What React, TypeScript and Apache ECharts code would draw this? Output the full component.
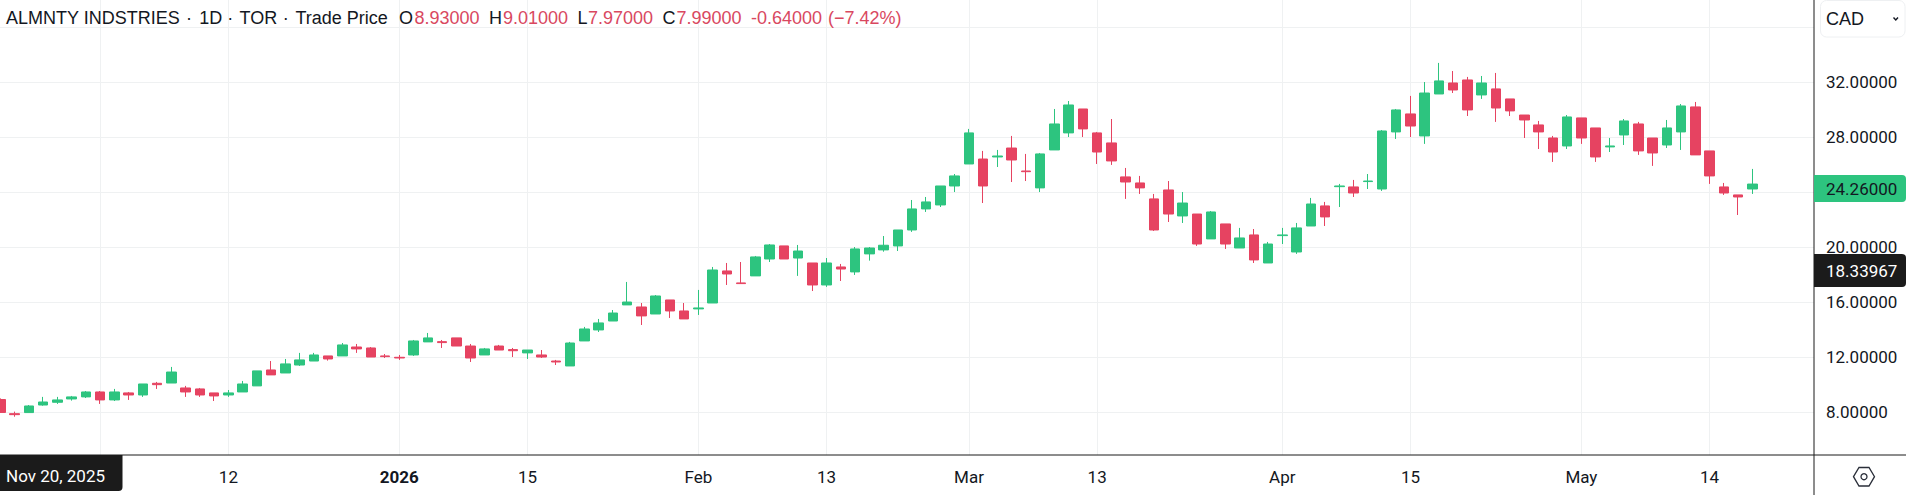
import React, { useEffect, useRef } from "react";
import * as echarts from "echarts";

const opens = [8.93,7.90,7.98,8.53,8.73,8.97,9.12,9.48,8.90,9.41,9.26,10.11,10.13,9.77,9.70,9.41,9.26,9.48,9.92,11.08,10.86,11.44,11.73,
12.10,12.10,12.75,12.68,12.10,12.00,12.17,13.12,13.14,13.41,12.82,12.17,12.82,12.56,12.32,12.17,11.73,11.37,13.19,13.99,14.64,
15.81,15.66,15.15,16.17,15.37,15.52,15.95,18.28,17.41,17.92,19.15,20.10,19.22,18.86,17.26,18.57,18.21,
19.52,19.81,20.10,21.26,22.79,23.08,24.46,26.06,26.42,26.57,27.22,25.55,24.32,27.08,28.32,30.06,28.32,27.59,25.12,24.68,23.52,
24.17,22.28,22.42,20.61,21.70,19.95,20.90,18.86,20.85,19.66,21.55,23.01,24.41,24.39,24.78,24.24,28.39,29.70,
28.10,31.15,31.95,32.17,31.08,31.52,30.79,29.62,28.90,27.95,27.37,29.41,28.68,27.30,28.17,28.97,27.95,27.44,28.39,30.21,27.01,24.39,23.81,24.24];
const closes = [7.99,7.83,8.46,8.75,8.90,9.12,9.48,8.90,9.48,9.26,10.06,10.01,10.93,9.48,9.26,9.19,9.41,10.06,11.01,10.72,11.52,11.81,12.17,
11.88,12.90,12.61,12.02,12.05,11.95,13.19,13.41,13.07,12.82,11.95,12.61,12.53,12.48,12.53,12.02,11.66,13.04,14.06,14.50,15.22,
16.02,15.01,16.46,15.37,14.79,15.59,18.35,18.06,17.36,19.30,20.17,19.15,19.73,17.26,18.86,18.42,19.88,
19.95,20.15,21.26,22.79,23.30,24.46,25.19,28.32,24.46,26.64,26.35,25.50,26.79,28.97,30.35,28.61,26.93,26.28,24.75,24.32,21.26,
22.42,23.22,20.24,22.57,20.24,20.68,19.08,20.24,20.90,21.41,23.15,22.21,24.46,23.95,24.82,28.46,29.99,28.82,
31.22,32.10,31.44,29.99,31.95,30.13,29.92,29.26,28.39,26.93,29.48,27.95,26.57,27.37,29.19,27.01,26.86,28.68,30.28,26.72,25.19,23.95,23.66,24.60];
const lows = [7.97,7.68,7.98,8.48,8.61,8.85,9.04,8.61,8.82,8.90,9.12,9.70,10.13,9.12,9.12,8.82,9.12,9.48,9.92,10.72,10.86,11.37,11.73,
11.76,12.10,12.32,12.02,11.95,11.81,12.10,13.12,12.68,12.82,11.66,12.17,12.53,12.02,11.88,11.95,11.44,11.37,13.19,13.84,14.64,
15.81,14.35,15.15,14.86,14.79,15.08,15.95,17.26,17.36,17.92,18.93,19.15,17.92,16.82,17.12,17.55,17.99,
19.03,19.68,19.73,21.12,22.57,22.93,24.02,26.06,23.22,25.84,24.75,24.82,24.02,27.08,28.02,28.02,26.06,25.99,23.52,23.88,21.19,
21.84,21.77,20.10,20.61,19.88,19.95,18.86,18.86,20.24,19.52,21.55,21.55,22.93,23.66,24.24,24.10,27.88,28.02,
27.52,31.15,31.22,29.55,30.79,29.12,29.55,27.95,27.15,26.21,27.15,27.52,26.21,26.93,27.44,26.72,25.92,27.22,27.08,26.72,24.61,23.81,22.35,23.88];
const highs = [9.01,8.05,8.53,9.12,9.12,9.19,9.55,9.55,9.70,9.48,10.06,10.21,11.30,9.92,9.77,9.41,9.62,10.28,11.01,11.73,11.88,12.32,12.32,
12.10,13.04,12.97,12.75,12.24,12.17,13.26,13.77,13.26,13.41,12.97,12.68,12.90,12.68,12.53,12.53,11.81,13.12,14.21,14.79,15.44,
17.48,15.95,16.53,16.17,15.95,16.90,18.57,18.86,18.93,19.37,20.24,20.10,20.17,18.86,19.22,18.79,20.02,
20.02,20.82,21.26,23.44,23.66,24.46,25.33,28.61,27.01,27.08,28.10,26.79,26.86,30.06,30.64,30.06,28.39,29.33,25.77,25.19,23.88,
24.82,24.02,22.42,22.64,21.70,21.41,21.33,20.39,21.41,21.77,23.59,23.30,24.61,24.90,25.33,28.53,30.06,31.01,
32.02,33.41,32.82,32.39,32.46,32.68,30.79,29.62,29.19,28.10,29.62,29.41,28.68,27.95,29.33,29.12,27.95,29.26,30.42,30.57,27.01,24.68,23.81,25.70];

const emptyTrailingSlots = 4;
const tickIndices = [7, 16, 28, 37, 49, 58, 68, 77, 90, 99, 111, 120];
const tickTexts = ["", "12", "2026", "15", "Feb", "13", "Mar", "13", "Apr", "15", "May", "14"];
const priceLabels = [8, 12, 16, 20, 24, 28, 32];

const categories = Array.from({ length: opens.length + emptyTrailingSlots }, (_, i) => String(i));
const candleData = opens.map((o, i) => [o, closes[i], lows[i], highs[i]]);

const UP = "#2DC47F";
const DOWN = "#E64361";
const INK = "#131722";
const QUOTE = "#D9485F";
const GRID = "#EFF1F2";
const Y_MIN = 4.895;
const Y_MAX = 37.985;
const SANS = "Liberation Sans";

const headerPieces: [string, number, string][] = [
  ["ALMNTY INDSTRIES", 6, INK],
  ["·", 186, INK],
  ["1D", 199.2, INK],
  ["·", 227.2, INK],
  ["TOR", 239.6, INK],
  ["·", 282.7, INK],
  ["Trade Price", 295.5, INK],
  ["O", 399, INK],
  ["8.93000", 414.5, QUOTE],
  ["H", 489, INK],
  ["9.01000", 503, QUOTE],
  ["L", 577.5, INK],
  ["7.97000", 588, QUOTE],
  ["C", 662.5, INK],
  ["7.99000", 676.5, QUOTE],
  ["-0.64000", 751, QUOTE],
  ["(−7.42%)", 828, QUOTE],
];

function txt(text: string, x: number, y: number, fill: string, fontSize: number, fontFamily: string, z: number) {
  return { type: "text", x, y, z, style: { text, fill, fontSize, fontFamily, verticalAlign: "middle" } };
}

export default function App() {
  const ref = useRef<HTMLDivElement>(null);
  useEffect(() => {
    document.body.style.margin = "0";
    const chart = echarts.init(ref.current!, undefined, { renderer: "svg" });
    const labelAt = (i: number) => tickIndices.includes(i);
    const yBase = { type: "value", min: Y_MIN, max: Y_MAX, minInterval: 4, maxInterval: 4, position: "right", scale: true };
    chart.setOption({
      animation: false,
      backgroundColor: "#ffffff",
      grid: { left: -6.62, top: 0, width: 1823, height: 455, containLabel: false, outerBoundsMode: "none" },
      xAxis: {
        type: "category",
        data: categories,
        boundaryGap: true,
        axisLine: { show: false },
        axisTick: { show: false },
        splitLine: { show: true, interval: (i: number) => labelAt(i), alignWithLabel: true, lineStyle: { color: GRID, width: 1 } },
        axisLabel: {
          show: true,
          interval: (i: number) => labelAt(i),
          margin: 13,
          color: INK,
          fontFamily: "Roboto",
          fontSize: 17,
          formatter: (v: string) => {
            const k = tickIndices.indexOf(Number(v));
            const t = k >= 0 ? tickTexts[k] : "";
            return t === "2026" ? "{b|2026}" : t;
          },
          rich: { b: { fontWeight: "bold", fontFamily: "Roboto", fontSize: 17, color: INK } },
        },
      },
      yAxis: [
        {
          ...yBase,
          z: 0,
          axisLine: { show: false },
          axisTick: { show: false },
          axisLabel: { show: false },
          splitLine: { show: true, showMinLine: false, showMaxLine: false, lineStyle: { color: GRID, width: 1 } },
        },
        {
          ...yBase,
          z: 5,
          axisLine: { show: false },
          axisTick: { show: false },
          splitLine: { show: false },
          axisLabel: {
            show: true,
            margin: 9.6,
            color: INK,
            fontFamily: "Roboto",
            fontSize: 17,
            showMinLabel: false,
            showMaxLabel: false,
            formatter: (v: number) => (priceLabels.includes(v) ? v.toFixed(5) : ""),
          },
        },
      ],
      series: [
        {
          type: "candlestick",
          yAxisIndex: 0,
          data: candleData,
          barWidth: 10,
          itemStyle: { color: UP, color0: DOWN, borderColor: UP, borderColor0: DOWN, borderWidth: 1 },
        },
      ],
      graphic: {
        elements: [
          { type: "rect", z: 1, shape: { x: 1814, y: 0, width: 92, height: 495 }, style: { fill: "#fff" } },
          { type: "line", z: 6, shape: { x1: 0, y1: 455, x2: 1906, y2: 455 }, style: { stroke: "#1b1b1b", lineWidth: 1 } },
          { type: "line", z: 6, shape: { x1: 1814, y1: 0, x2: 1814, y2: 495 }, style: { stroke: "#1b1b1b", lineWidth: 1 } },
          ...headerPieces.map(([t, x, c]) => txt(t, x, 17.5, c, 18, SANS, 7)),
          { type: "rect", z: 7, shape: { x: 1820.5, y: 0.5, width: 84.5, height: 36.5, r: 6 }, style: { fill: "#fff", stroke: "#EEF0F2", lineWidth: 1 } },
          txt("CAD", 1826, 18.5, INK, 18, SANS, 8),
          { type: "polyline", z: 8, shape: { points: [[1893.5, 17.5], [1895.8, 20], [1898, 17.5]] }, style: { stroke: INK, lineWidth: 1.4, fill: "none" } },
          { type: "rect", z: 7, shape: { x: 1814, y: 175, width: 92, height: 27, r: [0, 4, 4, 0] }, style: { fill: UP } },
          txt("24.26000", 1826, 188.8, INK, 17, "Roboto", 8),
          { type: "rect", z: 7, shape: { x: 1814, y: 254, width: 92, height: 33, r: [0, 4, 4, 0] }, style: { fill: "#1b1b1b" } },
          txt("18.33967", 1826, 270.5, "#ffffff", 17, "Roboto", 8),
          { type: "rect", z: 7, shape: { x: 0, y: 455, width: 122.5, height: 36, r: [0, 0, 4, 0] }, style: { fill: "#1b1b1b" } },
          txt("Nov 20, 2025", 6, 475.5, "#ffffff", 17, "Roboto", 8),
          { type: "polygon", z: 7, shape: { points: [[1853.5, 476.7], [1859, 467.5], [1869, 467.5], [1874.5, 476.7], [1869, 486], [1859, 486]] }, style: { fill: "none", stroke: "#2a2e39", lineWidth: 1.3 } },
          { type: "circle", z: 7, shape: { cx: 1864, cy: 476.7, r: 3 }, style: { fill: "none", stroke: "#2a2e39", lineWidth: 1.3 } },
        ],
      },
    });
    return () => chart.dispose();
  }, []);
  return <div ref={ref} style={{ position: "absolute", left: 0, top: 0, width: 1906, height: 495 }} />;
}
